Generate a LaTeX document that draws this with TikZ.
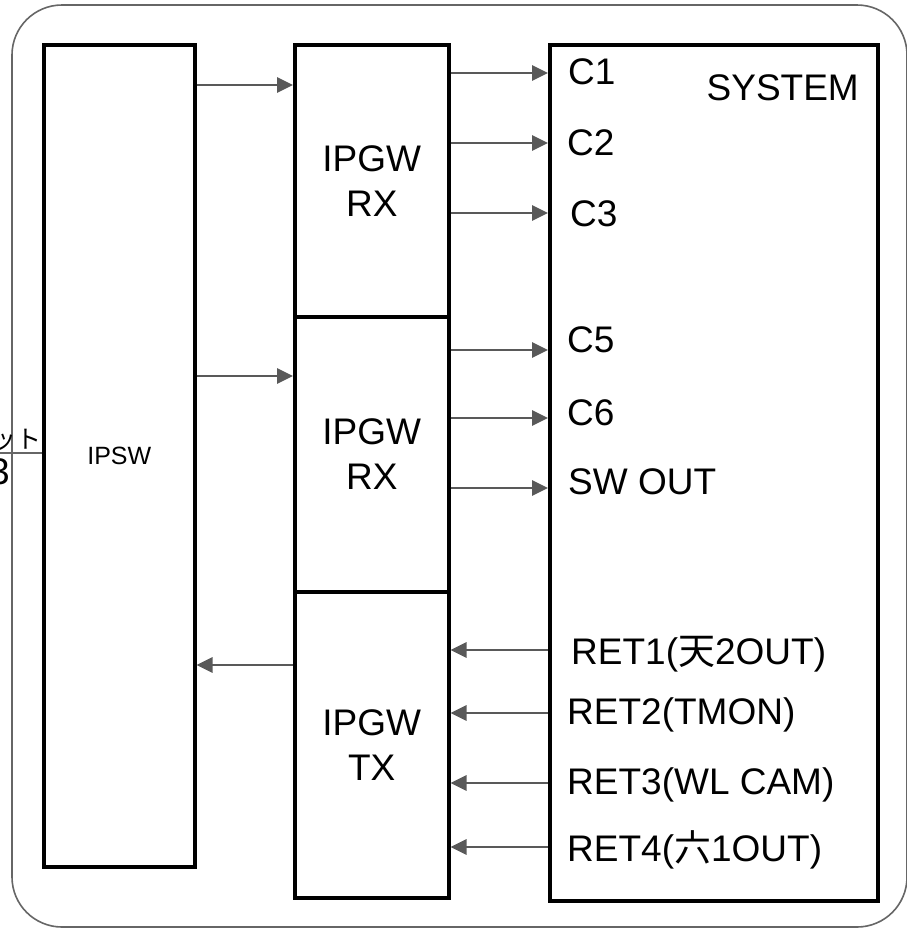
\documentclass[tikz,border=0pt]{standalone}
\usepackage{fontspec}
\setmainfont{Liberation Sans}
\newfontfamily\cjk{Noto Sans CJK JP}
\usetikzlibrary{positioning, arrows.meta, calc}
\definecolor{frmgray}{HTML}{666666}
\definecolor{siggray}{HTML}{595959}

\begin{document}
\begin{tikzpicture}[x=1pt, y=-1pt,
    box/.style={draw=black, line width=3.5pt, inner sep=0pt, align=center, font=\fontsize{37}{45}\selectfont},
    lbl/.style={inner sep=0pt, anchor=west, font=\fontsize{37}{45}\selectfont},
    sig/.style={-{Triangle[length=16pt, width=15pt]}, line width=2.8pt, color=siggray}]
  \useasboundingbox (0,0) rectangle (906,929);
  % outer frame
  \draw[frmgray, line width=1.6pt, rounded corners=50pt] (12,5) rectangle (907,927);
  % blocks
  \node[box, anchor=north west, minimum width=151pt, minimum height=822pt, font=\fontsize{25}{30}\selectfont] (ipsw) at (42,43) {IPSW};
  \node[box, anchor=north west, minimum width=154pt, minimum height=272pt] (rxa) at (293,43) {IPGW\\RX};
  \node[box, anchor=north west, minimum width=154pt, minimum height=275pt] (rxb) at (293,315) {IPGW\\RX};
  \node[box, anchor=north west, minimum width=154pt, minimum height=306pt] (tx) at (293,590) {IPGW\\TX};
  \node[box, anchor=north west, minimum width=328pt, minimum height=856pt] (sys) at (548,43) {};
  \node[lbl, anchor=east] (systitle) at (859,88) {SYSTEM};
  % outside connection
  \coordinate (ext) at (-10,453);
  \draw[frmgray, line width=1.4pt] (ext) -- (ext -| ipsw.west);
  \node[inner sep=0pt, anchor=south east, font=\cjk\fontsize{25}{30}\selectfont] (extname) at (42,451) {ット};
  \node[inner sep=0pt, anchor=north east, font=\fontsize{37}{45}\selectfont] (extno) at (10,458) {3};
  % IPSW <-> IPGW
  \draw[sig] (ipsw.east |- 0,85) -- (rxa.west |- 0,85);
  \draw[sig] (ipsw.east |- 0,376) -- (rxb.west |- 0,376);
  \draw[sig] (tx.west |- 0,665) -- (ipsw.east |- 0,665);
  % IPGW RX -> SYSTEM
  \foreach \y in {73,143,213}
    \draw[sig] (rxa.east |- 0,\y) -- (sys.west |- 0,\y);
  \foreach \y in {350,418,488}
    \draw[sig] (rxb.east |- 0,\y) -- (sys.west |- 0,\y);
  % SYSTEM -> IPGW TX
  \foreach \y in {650,713,783,847}
    \draw[sig] (sys.west |- 0,\y) -- (tx.east |- 0,\y);
  % signal names
  \node[lbl] (c1) at (568,72) {C1};
  \node[lbl] (c2) at (567,143) {C2};
  \node[lbl] (c3) at (570,214) {C3};
  \node[lbl] (c5) at (567,340) {C5};
  \node[lbl] (c6) at (567,413) {C6};
  \node[lbl] (swout) at (568,482) {SW OUT};
  \node[lbl] (ret1) at (571,654) {RET1({\cjk 天}2OUT)};
  \node[lbl] (ret2) at (567,715) {RET2(TMON)};
  \node[lbl] (ret3) at (567,785) {RET3(WL CAM)};
  \node[lbl] (ret4) at (567,850) {RET4({\cjk 六}1OUT)};
\end{tikzpicture}
\end{document}
